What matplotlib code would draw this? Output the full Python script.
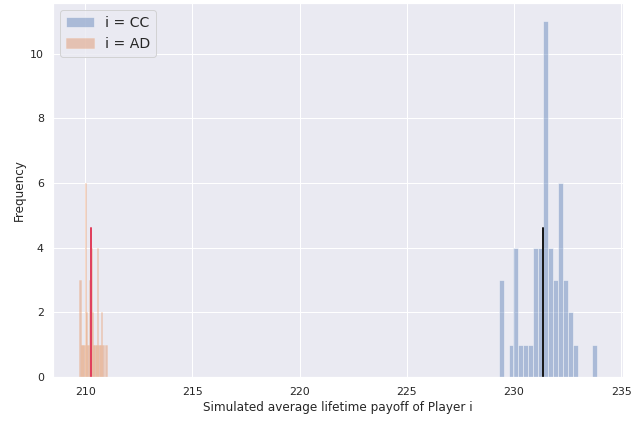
import matplotlib
matplotlib.use("Agg")
import matplotlib.pyplot as plt
import numpy as np
import seaborn as sns

sns.set()

# Histogram counts for each strategy (20 equal-width bins between min and max)
cc_range = (229.28, 233.88)
cc_counts = [3, 0, 1, 4, 1, 1, 1, 4, 4, 11, 4, 3, 6, 3, 2, 1, 0, 0, 0, 1]
ad_range = (209.72, 211.00)
ad_counts = [3, 1, 1, 1, 6, 2, 1, 3, 4, 2, 1, 1, 1, 4, 1, 1, 2, 1, 0, 1]

# Mean payoffs
cc_mean = 231.36
ad_mean = 210.28

labels = ["i = CC", "i = AD"]


def plot_hist(ax, rng, counts, label, **kw):
    edges = np.linspace(rng[0], rng[1], len(counts) + 1)
    centers = (edges[:-1] + edges[1:]) / 2
    ax.hist(centers, bins=edges, weights=counts, alpha=0.4, label=label, **kw)


fig, ax = plt.subplots(figsize=(634 / 72, 427 / 72), dpi=72)
fig.subplots_adjust(left=0.084, right=0.983, bottom=0.117, top=0.992)

plot_hist(ax, cc_range, cc_counts, labels[0])
# AD bins are very narrow, so outline them in their own colour
plot_hist(ax, ad_range, ad_counts, labels[1], edgecolor="#f0b890", linewidth=0.6)

ax.axvline(cc_mean, ymax=0.4, color="k", linewidth=2)
ax.axvline(ad_mean, ymax=0.4, color="#e0405e", linewidth=2)

ax.set_xlabel("Simulated average lifetime payoff of Player i")
ax.set_ylabel("Frequency")
ax.legend(loc="upper left", fontsize=14)

fig.savefig("out.png", dpi=72)
